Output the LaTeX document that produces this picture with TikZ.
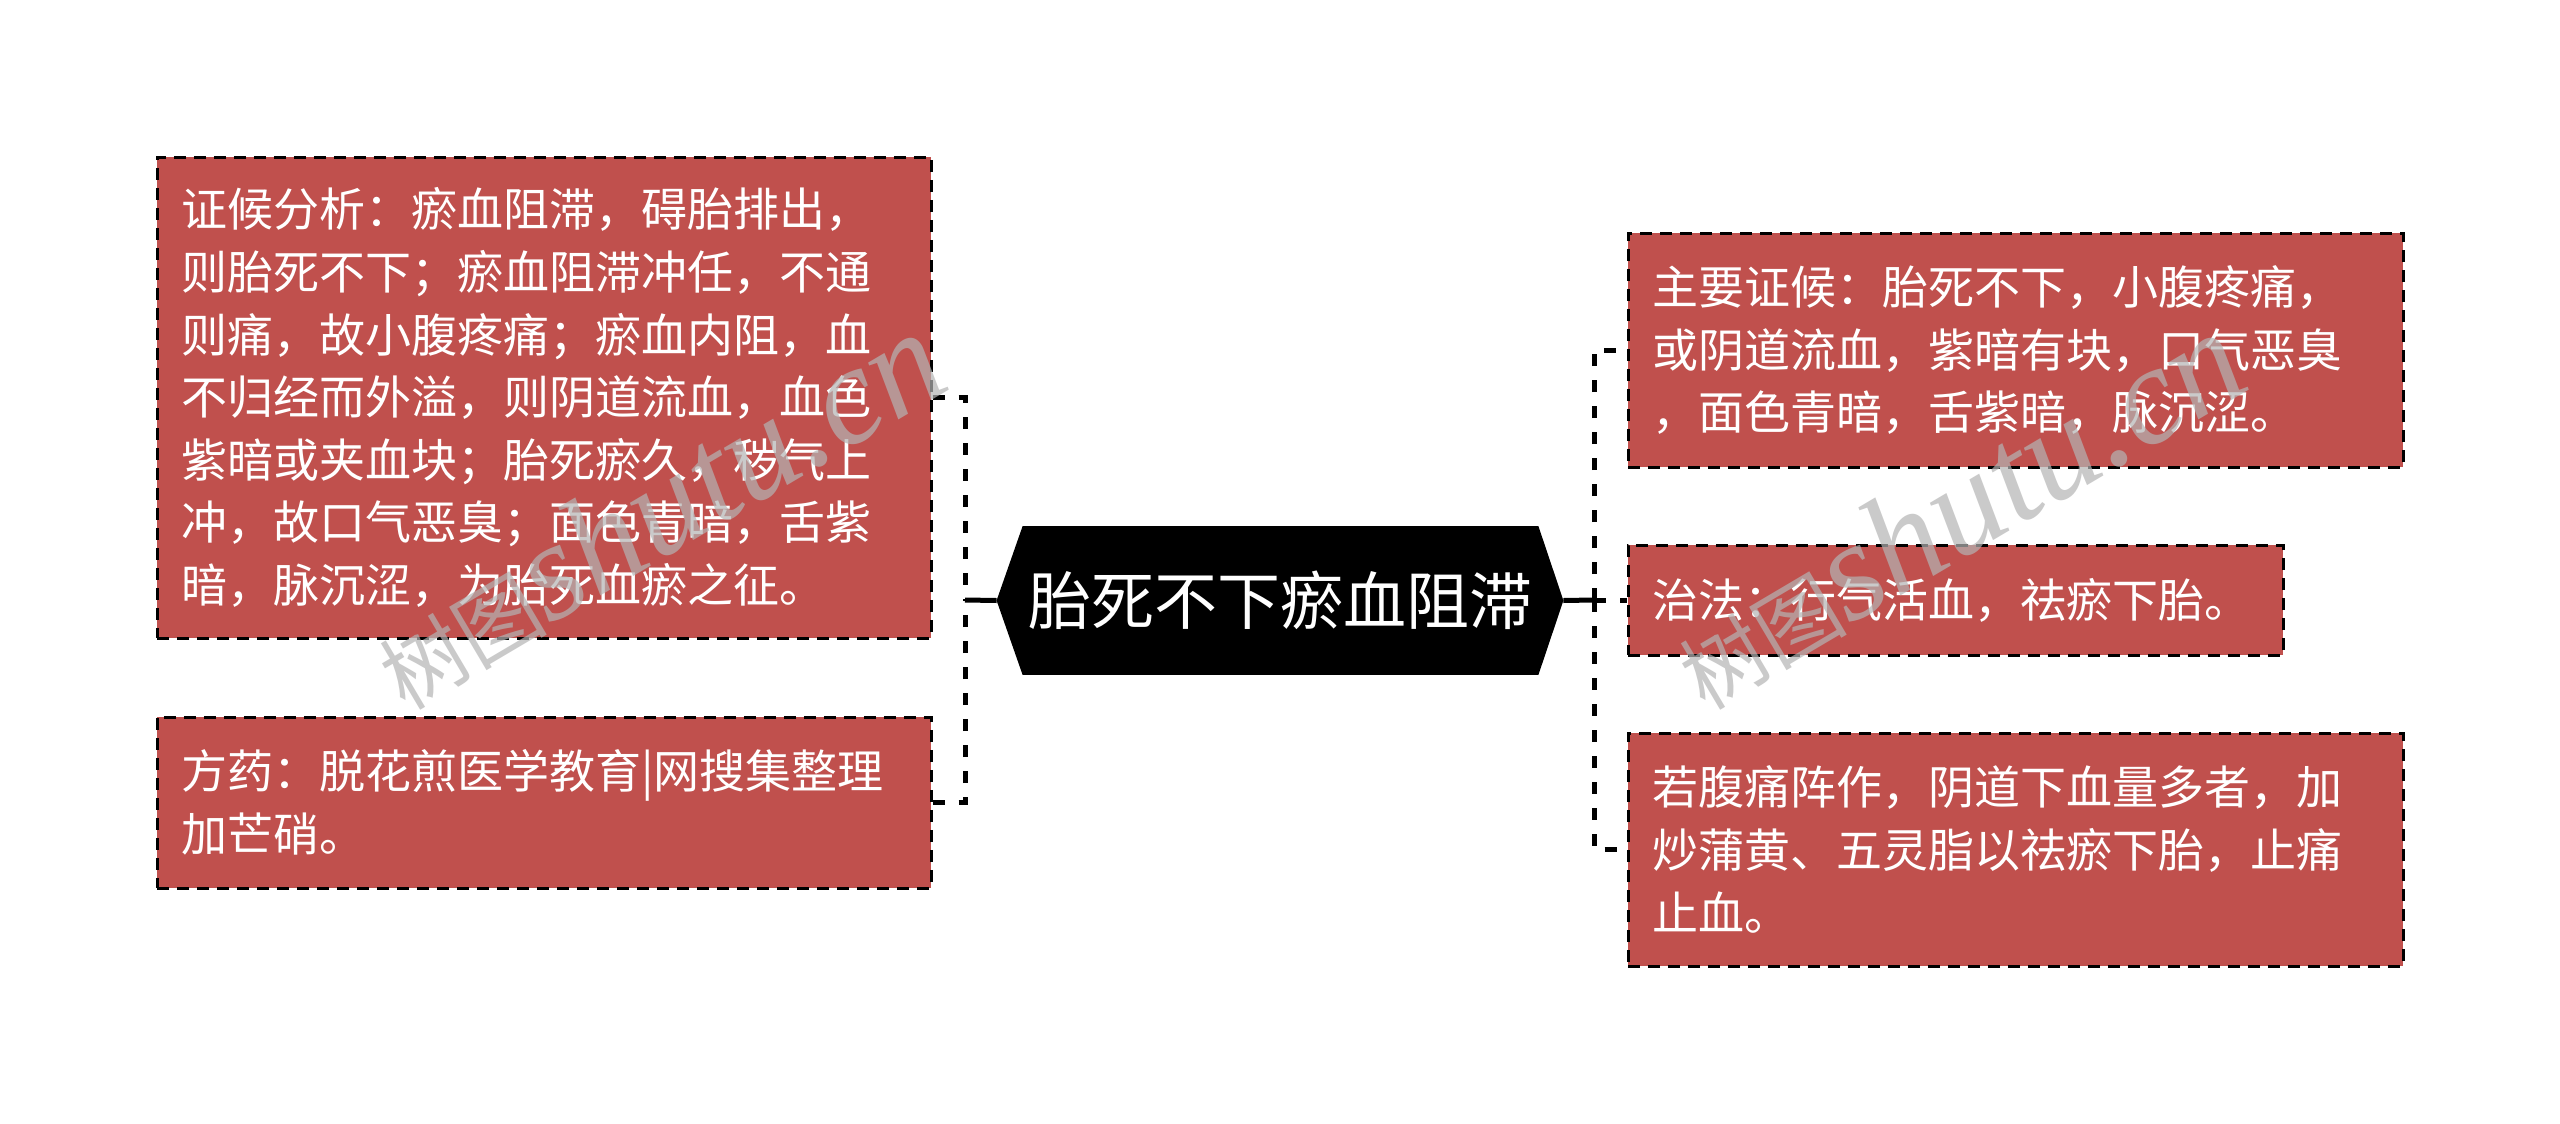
\documentclass[tikz,border=0pt]{standalone}
\usepackage{fontspec}
\setmainfont{Noto Sans CJK SC}
\newfontfamily\wmlatin{Liberation Serif}
\usetikzlibrary{calc,backgrounds}
\definecolor{boxred}{RGB}{192,80,77}
\definecolor{wmgray}{RGB}{180,180,180}
\begin{document}
\begin{tikzpicture}[x=0.5pt,y=-0.5pt,
  box/.style={draw=black, line width=1.5pt, dash pattern=on 6pt off 4pt,
    fill=boxred, text=white, align=left, inner xsep=12pt, inner ysep=0pt,
    font=\fontsize{23pt}{31.3pt}\selectfont, anchor=center},
  hexbox/.style={text=white, inner sep=0pt, minimum width=257.5pt,
    minimum height=74pt, font=\fontsize{31.5pt}{36pt}\selectfont},
  trunkline/.style={line width=2.5pt, dash pattern=on 6pt off 7pt, black},
  stemline/.style={line width=2.5pt, black},
  wm/.style={text=wmgray, text opacity=0.7, rotate=30.6, inner sep=0pt,
    font=\fontsize{42pt}{42pt}\selectfont}
]
\useasboundingbox (0,0) rectangle (2560,1124);

% central hexagon
\node[hexbox] (c) at (1280.5,600.5) {胎死不下瘀血阻滞};
\coordinate (cl) at ($(c.west)+(-26,0)$);
\coordinate (cr) at ($(c.east)+(25,0)$);
\begin{pgfonlayer}{background}
\fill[white] (0,0) rectangle (2560,1124);
\fill[black] (c.north west) -- (cl) -- (c.south west) -- (c.south east)
  -- (cr) -- (c.north east) -- cycle;
\end{pgfonlayer}

% left boxes
\node[box, text width=363pt, minimum height=240.5pt] (l1) at (544,397.5) {%
证候分析：瘀血阻滞，碍胎排出，\\
则胎死不下；瘀血阻滞冲任，不通\\
则痛，故小腹疼痛；瘀血内阻，血\\
不归经而外溢，则阴道流血，血色\\
紫暗或夹血块；胎死瘀久，秽气上\\
冲，故口气恶臭；面色青暗，舌紫\\
暗，脉沉涩，为胎死血瘀之征。};
\node[box, text width=363pt, minimum height=85.5pt] (l2) at (544,802.5) {%
方药：脱花煎医学教育|网搜集整理\\
加芒硝。};

% right boxes
\node[box, text width=363.5pt, minimum height=117pt] (r1) at (2015.5,350) {%
主要证候：胎死不下，小腹疼痛，\\
或阴道流血，紫暗有块，口气恶臭\\
，面色青暗，舌紫暗，脉沉涩。};
\node[box, text width=303.5pt, minimum height=55pt] (r2) at (1955.5,600) {%
治法：行气活血，祛瘀下胎。};
\node[box, text width=363.5pt, minimum height=116.5pt] (r3) at (2015.5,849.5) {%
若腹痛阵作，阴道下血量多者，加\\
炒蒲黄、五灵脂以祛瘀下胎，止痛\\
止血。};

% connectors
\coordinate (tl) at (965,600);
\coordinate (tr) at (1594,600);
\draw[trunkline] (l1.east) -| (tl);
\draw[trunkline] (l2.east) -| (tl);
\draw[stemline] (cl) -- (tl);
\draw[stemline] (cr) -- (tr);
\draw[trunkline] (tr) |- (r1.west);
\draw[trunkline] (tr) |- (r3.west);
\draw[trunkline] (tr) -- (r2.west);

% watermarks
\node[wm] (wm1) at (657,510) {树图{\wmlatin\itshape\fontsize{70pt}{70pt}\selectfont shutu.cn}};
\node[wm] (wm2) at (1957,510) {树图{\wmlatin\itshape\fontsize{70pt}{70pt}\selectfont shutu.cn}};
\end{tikzpicture}
\end{document}
